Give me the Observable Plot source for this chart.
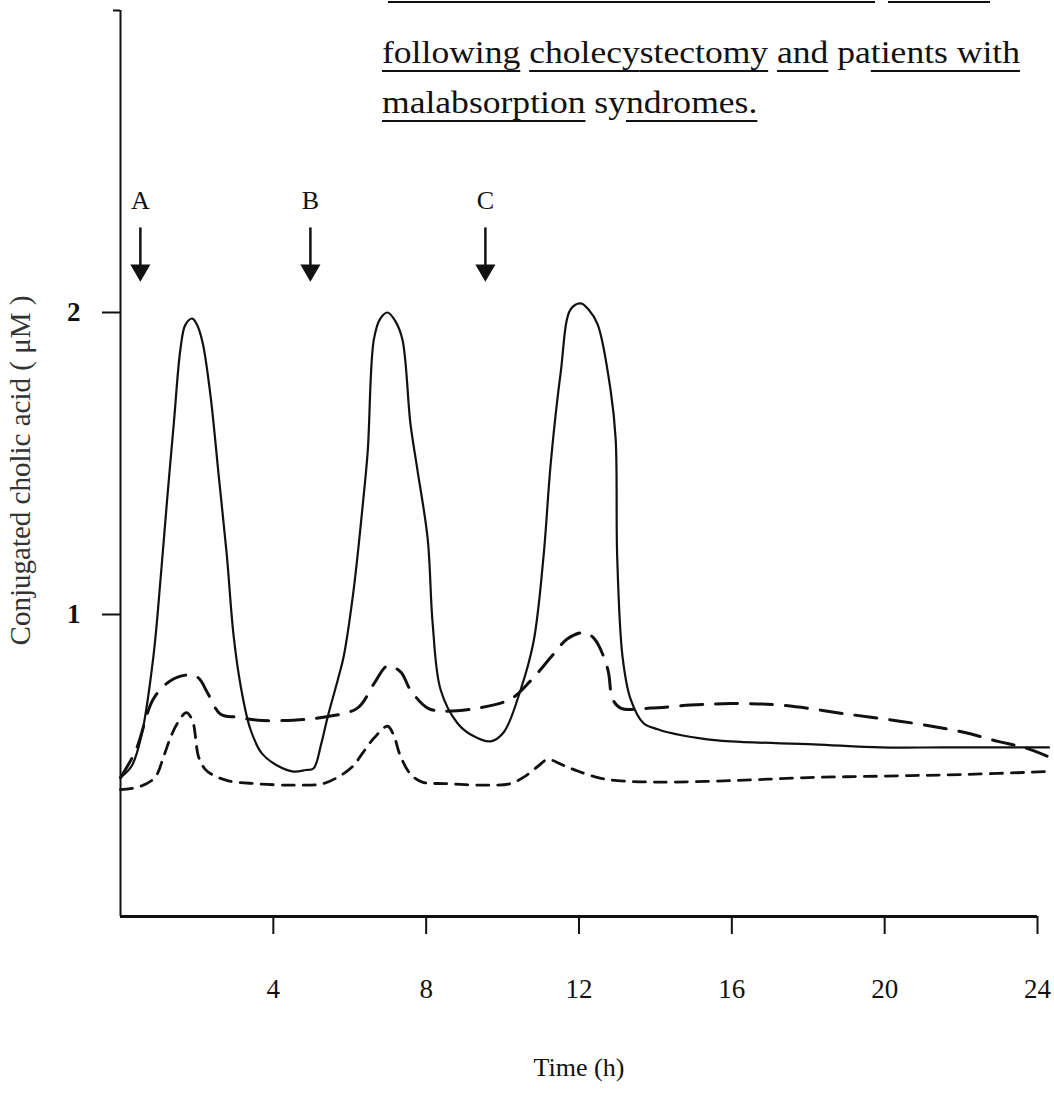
<!DOCTYPE html>
<html><head><meta charset="utf-8">
<script src="https://cdn.jsdelivr.net/npm/d3@7"></script>
<script src="https://cdn.jsdelivr.net/npm/@observablehq/plot@0.6"></script>
<style>
body{margin:0;background:#fff;}
#wrap{position:relative;width:1054px;height:1098px;overflow:hidden;background:#fff;}
.tl{position:absolute;left:382px;white-space:nowrap;font-family:"Liberation Serif",serif;font-size:32px;line-height:32px;color:#111;transform-origin:0 0;}
.u{text-decoration:underline;text-decoration-thickness:2px;text-underline-offset:7px;}
.rule{position:absolute;top:1px;height:0;border-top:2px solid #111;}
</style></head><body>
<div id="wrap">
<div id="chart"></div>
<div class="rule" style="left:388px;width:487px"></div>
<div class="rule" style="left:888px;width:102px"></div>
<div class="tl" id="l2" style="top:36px"><span class="u">following</span> <span class="u">cholecy</span><span class="u">stectomy</span> <span class="u">and</span> pa<span class="u">tients with</span></div>
<div class="tl" id="l3" style="top:86px"><span class="u">malabsorption</span> sy<span class="u">ndromes.</span></div>
</div>
<script>
// Time (h) and conjugated cholic acid (µM)
const solidTime  = [0,0.3,0.55,0.86,1.05,1.22,1.4,1.57,1.7,1.88,2.0,2.15,2.36,2.57,2.78,2.96,3.15,3.4,3.7,4.1,4.53,4.85,5.05,5.25,5.42,5.7,5.84,6.1,6.33,6.47,6.63,6.8,6.99,7.2,7.38,7.59,7.77,8.04,8.17,8.38,8.82,9.2,9.69,10.03,10.47,10.81,11.07,11.26,11.52,11.78,12.04,12.25,12.49,12.83,12.96,13.0,13.14,13.35,13.69,14.06,14.32,15.18,15.97,18.14,19.9,21.6,24.3];
const solidValue = [0.46,0.5,0.6,0.86,1.12,1.38,1.64,1.88,1.96,1.98,1.96,1.90,1.72,1.46,1.2,0.93,0.76,0.62,0.54,0.5,0.48,0.485,0.49,0.57,0.66,0.79,0.86,1.08,1.35,1.54,1.91,1.98,2.0,1.97,1.91,1.63,1.48,1.25,0.97,0.75,0.64,0.6,0.58,0.61,0.75,0.91,1.19,1.5,1.80,2.01,2.03,2.01,1.96,1.74,1.58,1.19,0.86,0.72,0.64,0.62,0.61,0.59,0.58,0.57,0.56,0.56,0.56];

const longDashTime  = [0,0.4,0.86,1.3,1.78,2.04,2.28,2.62,3.06,3.6,4.53,5.31,6.2,6.63,6.99,7.33,7.59,8.04,8.46,9.35,10.21,10.73,11.34,11.7,12.12,12.4,12.75,12.88,13.09,13.87,14.92,15.97,17.28,19.03,20.76,22.07,22.96,23.64,24.27];
const longDashValue = [0.46,0.55,0.72,0.78,0.80,0.79,0.74,0.67,0.66,0.65,0.65,0.66,0.69,0.77,0.83,0.81,0.75,0.69,0.68,0.69,0.72,0.78,0.87,0.92,0.94,0.92,0.82,0.72,0.69,0.69,0.70,0.705,0.70,0.67,0.64,0.61,0.58,0.56,0.53];

const shortDashTime  = [0,0.5,0.9,1.13,1.3,1.49,1.72,1.88,2.04,2.2,2.4,2.8,3.5,4.5,5.3,5.8,6.1,6.33,6.63,6.99,7.15,7.33,7.6,7.9,8.5,9.5,10.2,10.6,10.95,11.18,11.6,12.0,12.5,13.0,14,16,18,20,22,24.3];
const shortDashValue = [0.42,0.43,0.46,0.53,0.59,0.64,0.675,0.65,0.53,0.49,0.47,0.45,0.44,0.435,0.44,0.47,0.5,0.54,0.59,0.63,0.6,0.53,0.47,0.445,0.44,0.435,0.44,0.465,0.5,0.52,0.5,0.48,0.46,0.45,0.445,0.45,0.46,0.465,0.47,0.48];

const arrowLabels = ["A","B","C"];
const arrowTimes  = [0.52,4.97,9.55];
const xTicks = [4,8,12,16,20,24];
const yTicks = [1,2];

const toRows = (t, v) => t.map((x, i) => ({time: x, value: v[i]}));
const solid = toRows(solidTime, solidValue);
const longDash = toRows(longDashTime, longDashValue);
const shortDash = toRows(shortDashTime, shortDashValue);
const arrows = arrowLabels.map((l, i) => ({label: l, time: arrowTimes[i]}));

const ink = "#111";
const chart = Plot.plot({
  width: 1054, height: 1098,
  marginLeft: 120, marginRight: 17, marginTop: 10, marginBottom: 182,
  style: {fontFamily: "'Liberation Serif', serif", fontSize: "27px", color: ink, background: "#fff"},
  x: {domain: [0, 24]},
  y: {domain: [0, 3]},
  marks: [
    Plot.axisX({ticks: xTicks, tickSize: 18, tickPadding: 44, tickFormat: d => String(d), label: null, strokeWidth: 2}),
    Plot.axisY({ticks: yTicks, tickSize: 18, tickPadding: 22, tickFormat: d => String(d), label: null, strokeWidth: 2, fontWeight: "bold"}),
    Plot.axisY({ticks: [3], tickSize: 7, tickFormat: () => "", label: null, strokeWidth: 2}),
    Plot.ruleY([0], {stroke: ink, strokeWidth: 3}),
    Plot.ruleX([0], {stroke: ink, strokeWidth: 2}),
    Plot.line(solid, {x: "time", y: "value", curve: "catmull-rom", stroke: ink, strokeWidth: 2.2}),
    Plot.line(longDash, {x: "time", y: "value", curve: "catmull-rom", stroke: ink, strokeWidth: 3, strokeDasharray: "22,13"}),
    Plot.line(shortDash, {x: "time", y: "value", curve: "catmull-rom", stroke: ink, strokeWidth: 2.8, strokeDasharray: "12,9"}),
    Plot.ruleX(arrows, {x: "time", y1: 2.28, y2: 2.15, stroke: ink, strokeWidth: 2.5}),
    Plot.dot(arrows, {x: "time", y: 2.14, symbol: "triangle", rotate: 180, r: 6.5, fill: ink, stroke: ink}),
    Plot.text(arrows, {x: "time", y: 2.37, text: "label", fontSize: 26, fill: ink}),
    Plot.text(["Conjugated cholic acid ( \u03bcM )"], {frameAnchor: "left", textAnchor: "middle", dx: -100, dy: 7, rotate: -90, fontSize: 29, fill: "#333"}),
    Plot.text(["Time (h)"], {frameAnchor: "bottom", dy: 159, fontSize: 26, fill: ink})
  ]
});
document.getElementById("chart").appendChild(chart);

// fit the typed caption lines to the width they take in the figure
const l2 = document.getElementById("l2"), l3 = document.getElementById("l3");
const w2 = l2.getBoundingClientRect().width;
const s = 638 / w2;
l2.style.transform = `scaleX(${s})`;
l3.style.transform = `scaleX(${s})`;
</script>
</body></html>
